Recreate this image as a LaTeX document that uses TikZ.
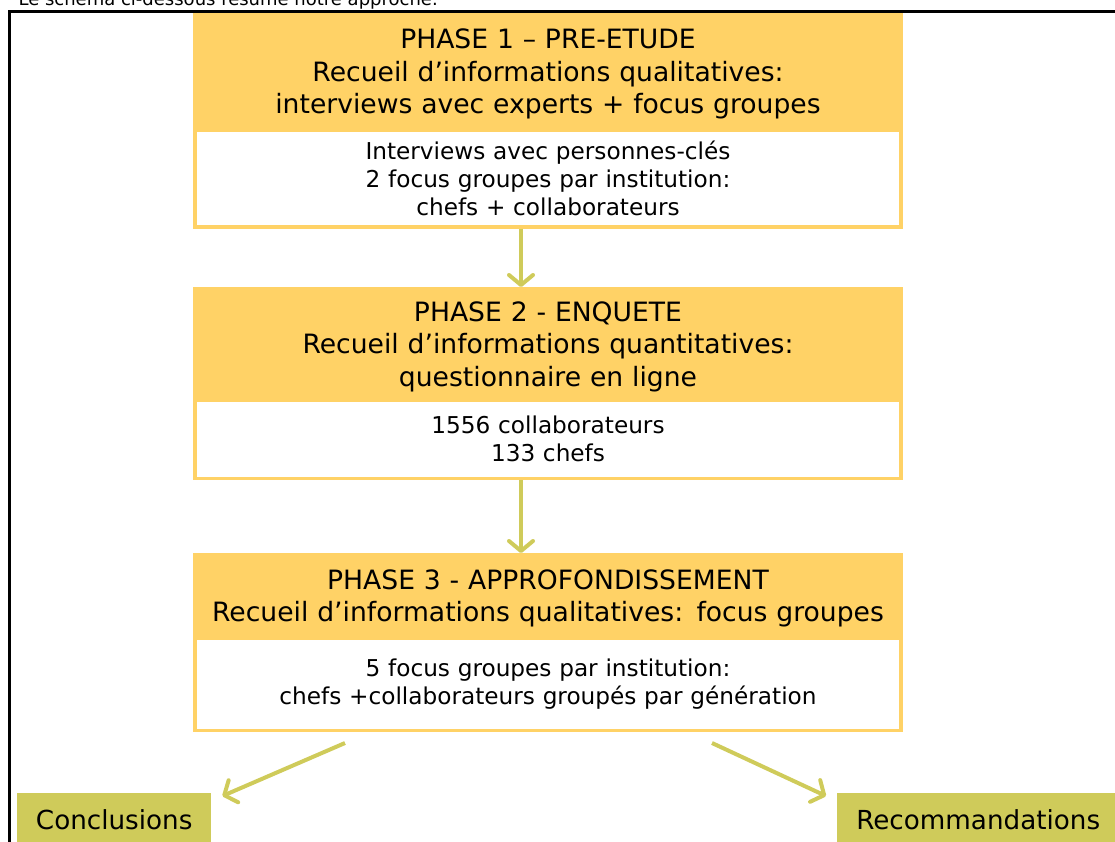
\documentclass[tikz,border=0pt]{standalone}
\usepackage{fontspec}
\setmainfont{DejaVu Sans}
\usetikzlibrary{positioning,arrows.meta}
\definecolor{phaseorange}{HTML}{FFD266}
\definecolor{olivegreen}{HTML}{CFCB5A}

\begin{document}
\begin{tikzpicture}[x=1pt,y=-1pt,
  head/.style={rectangle,fill=phaseorange,draw=phaseorange,line width=3.5pt,minimum width=706pt,inner sep=0pt,text width=700pt,align=center,font=\fontsize{26.6}{32.5}\selectfont,execute at begin node={\rule{0pt}{28pt}}},
  body/.style={rectangle,fill=white,draw=phaseorange,line width=3.5pt,minimum width=706pt,inner sep=0pt,text width=700pt,align=center,font=\fontsize{23.2}{28}\selectfont},
  result/.style={rectangle,fill=olivegreen,inner sep=0pt,anchor=north west,minimum height=54pt,font=\fontsize{26.2}{30}\selectfont},
  flow/.style={draw=olivegreen,line width=4pt,-{Straight Barb[length=10pt,width=24pt,round]}}]

\useasboundingbox (0,0) rectangle (1115,841);

\node [anchor=base west,font=\fontsize{18}{22}\selectfont] (intro) at (15,5) {Le schéma ci-dessous résume notre approche.};
\draw [line width=3pt] (9,860) -- (9,11) -- (1130,11);

\node [head,minimum height=112pt,anchor=north] (p1h) at (548,12.5) {PHASE 1 – PRE-ETUDE\\Recueil d’informations qualitatives:\\interviews avec experts + focus groupes};
\node [body,minimum height=97pt,below=0pt of p1h] (p1b) {Interviews avec personnes-clés\\2 focus groupes par institution:\\chefs + collaborateurs};

\node [head,minimum height=107.5pt,anchor=north] (p2h) at (548,287) {PHASE 2 - ENQUETE\\Recueil d’informations quantitatives:\\questionnaire en ligne};
\node [body,minimum height=78.5pt,below=0pt of p2h] (p2b) {1556 collaborateurs\\133 chefs};

\node [head,minimum height=79.5pt,anchor=north] (p3h) at (548,553) {PHASE 3 - APPROFONDISSEMENT\\Recueil d’informations qualitatives: focus groupes};
\node [body,minimum height=92.5pt,below=0pt of p3h] (p3b) {5 focus groupes par institution:\\chefs +collaborateurs groupés par génération};

\node [result,minimum width=194pt] (concl) at (17,793) {Conclusions};
\node [result,minimum width=282pt] (recom) at (837,793) {Recommandations};

\draw [flow] ([xshift=-27pt]p1b.south) -- ([xshift=-27pt]p2h.north);
\draw [flow] ([xshift=-27pt]p2b.south) -- ([xshift=-27pt]p3h.north);

\coordinate (lstart) at (345,743);
\coordinate (rstart) at (712,743);
\draw [flow] (lstart) -- ([xshift=11pt,yshift=-3pt]concl.north east);
\draw [flow] (rstart) -- ([xshift=-11pt,yshift=-3pt]recom.north west);

\end{tikzpicture}
\end{document}
